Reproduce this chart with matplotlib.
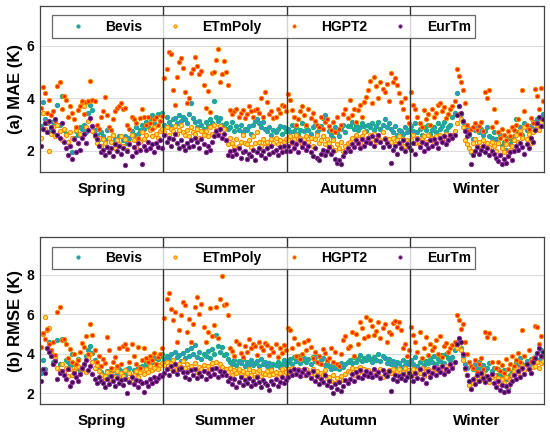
import numpy as np
import matplotlib.pyplot as plt

# daily errors per model, seasons in order: spring, summer, autumn, winter
seasons = ["Spring", "Summer", "Autumn", "Winter"]
season_days = [60, 60, 60, 65]

mae_bevis = [
    2.95, 3.85, 3.2, 3.05, 2.7, 2.85, 3.1, 2.6, 3.75, 3.0,
    4.1, 2.8, 2.65, 2.35, 2.2, 1.95, 2.5, 2.75, 2.6, 2.9,
    2.85, 3.0, 2.7, 3.45, 3.75, 3.55, 2.8, 2.6, 2.45, 2.7,
    2.55, 2.4, 2.8, 2.5, 2.35, 2.6, 2.45, 2.3, 2.55, 2.2,
    2.4, 2.55, 2.3, 2.5, 2.75, 2.6, 2.9, 2.65, 2.8, 3.0,
    2.85, 3.1, 2.95, 3.25, 3.35, 3.05, 3.3, 3.4, 3.15, 3.45,
    # summer
    3.0, 3.3, 3.1, 2.95, 3.2, 3.25, 3.05, 3.35, 3.15, 3.3,
    3.2, 3.05, 3.4, 3.8, 3.25, 3.1, 2.9, 3.15, 3.0, 2.85,
    3.1, 2.95, 3.2, 3.05, 3.9, 3.3, 3.15, 3.25, 3.0, 2.9,
    3.05, 2.85, 2.9, 3.1, 2.75, 2.95, 2.8, 3.0, 2.7, 2.85,
    2.8, 2.95, 2.65, 3.0, 3.15, 3.2, 3.05, 2.9, 3.1, 2.85,
    2.75, 2.9, 2.6, 2.8, 2.7, 2.85, 2.95, 2.65, 2.9, 2.75,
    # autumn
    2.85, 2.7, 3.0, 2.75, 2.9, 2.65, 2.8, 3.05, 2.75, 2.95,
    2.8, 2.65, 2.9, 3.0, 2.7, 2.85, 2.95, 3.25, 3.35, 3.2,
    2.75, 2.6, 2.5, 2.9, 2.7, 2.55, 2.85, 3.0, 2.7, 2.95,
    2.95, 3.1, 2.85, 3.0, 2.8, 2.9, 3.05, 2.95, 2.75, 3.0,
    2.9, 3.05, 2.8, 2.95, 3.1, 2.85, 3.0, 3.2, 2.9, 3.05,
    2.85, 2.7, 2.95, 2.6, 2.8, 2.75, 2.65, 2.9, 2.7, 2.8,
    # winter
    2.95, 2.75, 3.05, 2.7, 2.85, 2.6, 2.9, 2.8, 3.0, 2.65,
    2.8, 2.9, 2.7, 3.05, 2.85, 2.95, 3.1, 2.75, 2.9, 3.0,
    3.3, 3.45, 4.2, 3.7, 3.4, 3.1, 2.85, 2.9, 2.6, 1.95,
    2.45, 2.8, 2.9, 2.7, 2.85, 2.6, 2.75, 2.9, 2.55, 2.5,
    2.7, 2.45, 2.3, 2.6, 2.2, 2.35, 2.05, 2.5, 2.25, 2.4,
    2.55, 3.2, 2.7, 2.9, 2.6, 3.05, 2.8, 2.5, 2.95, 3.1,
    2.85, 3.2, 3.0, 3.25, 3.4,
]

mae_etmpoly = [
    2.5, 3.45, 2.85, 3.1, 2.0, 2.65, 2.9, 2.55, 3.0, 2.75,
    2.4, 2.85, 2.6, 2.35, 2.7, 2.5, 2.45, 2.8, 2.3, 2.65,
    3.85, 3.7, 2.9, 3.15, 3.9, 2.75, 2.55, 2.3, 2.5, 2.2,
    2.45, 2.3, 2.15, 2.5, 2.35, 2.6, 2.1, 2.4, 2.25, 2.55,
    2.2, 2.45, 2.05, 2.3, 2.6, 2.4, 2.15, 2.5, 2.35, 2.7,
    2.45, 2.6, 2.35, 2.8, 2.55, 2.9, 2.65, 2.5, 2.75, 2.85,
    # summer
    2.7, 2.9, 2.6, 2.85, 2.75, 2.95, 2.65, 2.8, 3.0, 2.7,
    2.6, 2.8, 2.55, 2.9, 2.7, 2.65, 2.85, 2.5, 2.75, 2.6,
    2.75, 2.55, 2.9, 2.65, 3.0, 2.8, 2.7, 2.95, 2.6, 2.85,
    2.4, 2.25, 2.5, 2.3, 2.15, 2.45, 2.2, 2.35, 2.6, 2.3,
    2.25, 2.4, 2.15, 2.55, 2.3, 2.7, 2.35, 2.2, 2.45, 2.3,
    2.35, 2.2, 2.45, 2.3, 2.5, 2.25, 2.4, 2.15, 2.35, 2.45,
    # autumn
    2.4, 2.55, 2.3, 2.45, 2.6, 2.35, 2.5, 2.25, 2.45, 2.55,
    2.35, 2.5, 2.2, 2.45, 2.6, 2.3, 2.4, 2.55, 2.25, 2.45,
    2.3, 2.15, 2.4, 2.05, 2.25, 2.1, 2.35, 2.0, 2.2, 2.3,
    2.35, 2.5, 2.25, 2.6, 2.45, 2.3, 2.55, 2.7, 2.4, 2.5,
    2.6, 2.45, 2.65, 2.35, 2.55, 2.4, 2.7, 2.5, 2.3, 2.45,
    2.35, 2.5, 2.25, 2.4, 2.55, 2.3, 2.45, 2.2, 2.4, 2.35,
    # winter
    2.4, 2.6, 2.3, 2.5, 2.25, 2.45, 2.55, 2.35, 2.6, 2.4,
    2.5, 2.3, 2.55, 2.4, 2.6, 2.45, 2.35, 2.65, 2.5, 2.55,
    2.6, 2.75, 3.05, 3.4, 3.2, 2.9, 2.4, 2.25, 2.1, 2.0,
    2.3, 2.45, 2.2, 2.35, 2.1, 2.4, 2.25, 2.3, 2.15, 2.35,
    2.2, 2.0, 2.3, 1.85, 2.1, 1.95, 2.25, 1.8, 2.05, 2.2,
    2.4, 2.6, 2.35, 2.75, 2.5, 2.9, 2.45, 2.65, 2.3, 2.7,
    2.85, 3.0, 2.8, 3.1, 2.95,
]

mae_hgpt2 = [
    3.62, 4.42, 4.21, 3.45, 3.92, 3.35, 3.52, 3.12, 4.48, 4.62,
    3.6, 4.08, 3.95, 3.3, 3.7, 3.45, 3.2, 2.92, 3.55, 3.72,
    3.9, 3.4, 3.85, 3.88, 4.66, 3.92, 3.9, 3.0, 2.85, 3.3,
    3.5, 4.05, 3.35, 2.9, 2.78, 3.2, 3.5, 3.62, 3.7, 3.82,
    3.6, 3.62, 3.0, 2.82, 3.3, 3.2, 3.05, 2.5, 3.25, 3.6,
    3.3, 3.0, 3.3, 3.05, 2.85, 3.2, 3.3, 3.0, 3.15, 3.32,
    # summer
    4.75, 5.12, 5.76, 5.68, 4.32, 3.75, 4.82, 5.38, 5.52, 5.15,
    4.22, 3.82, 4.02, 4.95, 5.1, 5.56, 5.22, 4.92, 5.05, 4.5,
    3.62, 4.28, 3.48, 4.95, 4.98, 5.45, 5.88, 4.62, 4.9, 5.4,
    5.0, 4.5, 3.55, 3.4, 3.5, 3.6, 3.3, 3.45, 3.55, 3.25,
    3.4, 3.7, 3.5, 3.3, 3.55, 3.6, 3.45, 4.0, 3.3, 4.25,
    3.85, 3.4, 3.5, 3.25, 3.3, 3.6, 3.45, 3.75, 3.7, 3.5,
    # autumn
    4.15, 3.95, 3.55, 3.3, 3.0, 3.2, 3.5, 3.7, 3.35, 3.0,
    3.6, 3.25, 3.45, 3.15, 3.0, 2.9, 3.3, 2.85, 3.1, 3.2,
    2.95, 2.8, 3.1, 2.7, 3.3, 2.85, 3.0, 3.4, 3.6, 3.25,
    3.95, 3.35, 3.6, 3.1, 3.55, 3.75, 3.3, 3.85, 4.05, 4.3,
    4.65, 3.8, 4.8, 4.45, 4.0, 4.6, 4.35, 4.25, 4.55, 3.9,
    4.95, 4.6, 4.75, 4.5, 4.2, 3.85, 3.6, 4.0, 3.3, 3.05,
    # winter
    4.25, 3.75, 3.6, 3.3, 3.05, 2.9, 3.55, 3.2, 3.4, 3.0,
    3.6, 3.3, 3.45, 3.75, 3.8, 3.5, 3.65, 3.25, 3.4, 3.6,
    3.7, 3.9, 5.1, 4.85, 4.6, 4.3, 3.8, 3.0, 2.75, 2.85,
    2.9, 3.05, 2.8, 2.95, 3.1, 2.75, 4.25, 4.0, 4.3, 2.9,
    3.6, 3.1, 2.7, 2.5, 2.85, 2.6, 2.4, 2.75, 2.55, 2.9,
    2.8, 3.0, 3.2, 2.65, 4.3, 3.5, 3.0, 2.85, 3.25, 3.05,
    4.35, 4.1, 3.6, 4.4, 3.9,
]

mae_eurtm = [
    2.2, 2.85, 3.05, 2.7, 3.15, 2.9, 2.75, 3.2, 2.6, 2.5,
    3.05, 2.35, 2.1, 1.85, 2.2, 1.7, 2.45, 1.95, 2.3, 2.05,
    2.5, 2.65, 2.3, 2.8, 3.25, 2.95, 2.6, 2.45, 2.2, 1.95,
    2.05, 1.85, 2.15, 1.95, 2.1, 1.8, 2.25, 2.0, 2.2, 1.9,
    2.1, 1.45, 2.0, 2.25, 1.8, 2.15, 1.95, 2.3, 2.05, 1.5,
    2.2, 2.05, 2.35, 2.1, 2.25, 1.95, 2.3, 2.15, 2.4, 2.1,
    # summer
    2.6, 2.35, 2.5, 2.2, 2.45, 2.65, 2.3, 2.1, 2.4, 2.2,
    2.05, 2.3, 2.15, 2.4, 2.2, 2.5, 2.35, 2.1, 2.45, 2.25,
    1.95, 2.2, 2.05, 2.35, 2.55, 2.75, 2.6, 2.85, 2.5, 2.65,
    2.4, 1.85, 2.0, 1.8, 2.05, 1.9, 2.1, 1.75, 1.95, 2.0,
    1.7, 1.9, 1.8, 2.05, 1.65, 1.95, 2.1, 1.85, 2.0, 1.75,
    2.1, 1.9, 2.2, 1.95, 2.05, 1.85, 2.15, 1.95, 2.2, 2.0,
    # autumn
    2.2, 2.0, 2.35, 2.1, 2.25, 1.95, 2.4, 2.15, 2.3, 2.05,
    2.2, 1.95, 1.8, 2.1, 1.75, 1.65, 1.9, 2.05, 1.85, 2.0,
    2.15, 1.9, 2.0, 1.7, 1.55, 1.65, 1.5, 1.8, 1.95, 2.1,
    2.0, 2.25, 2.15, 2.4, 2.3, 2.1, 2.45, 2.2, 2.35, 2.5,
    2.3, 2.55, 2.2, 2.4, 2.6, 2.35, 2.15, 2.45, 2.3, 2.2,
    1.55, 2.05, 2.2, 1.9, 2.3, 2.1, 2.4, 2.0, 2.25, 2.15,
    # winter
    2.05, 2.3, 1.9, 2.45, 2.15, 2.35, 2.0, 2.25, 2.1, 2.4,
    2.2, 2.45, 2.3, 2.1, 2.5, 2.35, 2.55, 2.25, 2.4, 2.6,
    2.5, 2.6, 3.35, 3.7, 3.45, 3.15, 2.75, 2.55, 2.65, 1.5,
    1.85, 2.0, 2.15, 1.9, 2.05, 2.2, 1.95, 2.1, 1.85, 2.0,
    1.9, 1.75, 1.6, 1.85, 1.5, 1.7, 1.55, 1.8, 1.95, 1.65,
    2.0, 2.2, 2.05, 2.3, 2.15, 1.9, 2.25, 2.1, 2.5, 2.35,
    2.8, 3.05, 3.3, 2.95, 3.2,
]

rmse_bevis = [
    3.0, 3.7, 3.2, 4.3, 4.6, 4.0, 3.6, 3.8, 4.7, 3.5,
    4.75, 4.7, 3.7, 3.6, 3.4, 4.0, 3.5, 3.3, 3.75, 3.1,
    3.2, 3.45, 3.9, 4.2, 4.4, 4.05, 3.7, 3.35, 3.3, 3.05,
    2.9, 2.7, 3.1, 2.8, 3.0, 3.15, 2.85, 2.95, 3.2, 3.05,
    3.1, 2.9, 3.2, 3.3, 2.85, 3.15, 3.0, 3.35, 3.2, 3.4,
    3.3, 3.55, 3.4, 3.7, 3.6, 3.8, 3.5, 3.75, 3.9, 4.0,
    # summer
    3.75, 3.9, 3.8, 4.0, 3.7, 4.1, 3.85, 3.95, 3.65, 4.05,
    3.8, 4.2, 3.9, 4.3, 4.0, 4.45, 3.85, 4.1, 3.75, 4.0,
    3.9, 4.15, 3.8, 4.25, 4.0, 4.95, 4.4, 4.1, 4.35, 3.95,
    4.0, 3.75, 3.6, 3.5, 3.7, 3.45, 3.65, 3.55, 3.75, 3.4,
    3.6, 3.5, 3.7, 3.45, 3.55, 3.65, 3.4, 3.75, 3.5, 3.6,
    3.4, 3.55, 3.3, 3.5, 3.45, 3.6, 3.35, 3.5, 3.7, 3.45,
    # autumn
    3.6, 3.75, 3.5, 3.85, 3.65, 3.9, 3.55, 3.7, 3.8, 3.6,
    3.75, 3.5, 3.85, 3.65, 3.9, 3.55, 3.7, 3.8, 3.45, 3.6,
    3.4, 3.25, 3.5, 3.3, 3.45, 3.2, 3.55, 3.35, 3.5, 3.6,
    3.7, 3.55, 3.85, 3.6, 3.75, 3.95, 3.65, 3.8, 3.7, 3.9,
    3.75, 3.6, 3.85, 3.7, 4.0, 3.65, 3.9, 3.8, 3.55, 3.75,
    3.5, 3.65, 3.4, 3.6, 3.55, 3.35, 3.7, 3.45, 3.6, 3.5,
    # winter
    3.7, 3.5, 3.85, 3.4, 3.6, 3.75, 3.45, 3.65, 3.55, 3.8,
    3.6, 3.9, 3.5, 3.75, 3.65, 3.95, 3.55, 4.0, 3.8, 3.7,
    3.85, 4.2, 4.45, 4.7, 4.3, 3.9, 3.5, 3.3, 3.6, 3.4,
    3.2, 3.5, 3.35, 3.6, 3.25, 3.45, 3.15, 3.3, 3.55, 3.1,
    3.3, 2.9, 3.2, 3.0, 2.8, 3.15, 2.7, 2.2, 2.9, 3.05,
    3.3, 3.6, 3.45, 3.8, 3.5, 3.9, 3.65, 3.4, 3.75, 3.55,
    3.85, 4.05, 3.7, 4.2, 3.9,
]

rmse_etmpoly = [
    4.35, 5.0, 5.85, 5.2, 5.3, 4.1, 3.5, 3.8, 3.3, 3.1,
    3.5, 3.05, 3.3, 2.85, 3.2, 2.9, 3.1, 3.35, 3.4, 2.95,
    3.25, 3.5, 3.05, 3.8, 4.0, 3.6, 3.3, 3.45, 3.1, 2.9,
    2.6, 2.85, 3.05, 2.7, 2.95, 3.25, 2.8, 3.1, 2.75, 3.0,
    2.85, 3.15, 2.7, 3.0, 2.55, 2.9, 3.1, 2.8, 3.05, 3.25,
    2.95, 3.2, 3.05, 3.4, 3.15, 3.3, 3.5, 3.25, 3.45, 3.55,
    # summer
    3.45, 3.6, 3.3, 3.55, 3.7, 3.4, 3.25, 3.5, 3.35, 3.65,
    3.3, 3.5, 3.15, 3.4, 3.25, 3.55, 3.05, 3.35, 3.2, 3.45,
    3.1, 3.4, 3.25, 3.55, 3.3, 3.6, 3.2, 3.5, 3.35, 3.15,
    3.2, 3.05, 3.3, 2.9, 3.15, 3.0, 3.25, 2.95, 3.1, 2.85,
    3.0, 3.2, 2.9, 3.1, 2.8, 3.05, 3.15, 2.85, 3.0, 2.95,
    3.1, 2.9, 3.15, 2.95, 3.05, 2.8, 3.0, 3.2, 2.9, 3.05,
    # autumn
    3.2, 3.0, 3.3, 3.1, 2.95, 3.25, 3.05, 3.15, 2.9, 3.2,
    3.05, 2.85, 3.2, 2.95, 3.1, 2.8, 3.0, 2.9, 3.15, 2.75,
    2.8, 2.6, 2.9, 2.5, 2.75, 2.55, 2.85, 2.65, 2.95, 3.1,
    3.05, 3.3, 2.9, 3.2, 3.0, 3.35, 3.1, 3.25, 2.95, 3.15,
    3.0, 2.85, 3.1, 2.9, 2.95, 3.2, 2.8, 3.05, 2.9, 3.15,
    3.0, 3.2, 2.95, 3.1, 3.25, 2.9, 3.05, 3.3, 3.0, 3.15,
    # winter
    3.05, 3.25, 2.9, 3.15, 3.0, 3.3, 2.85, 3.1, 3.2, 2.95,
    3.1, 3.3, 3.0, 3.2, 3.35, 3.05, 3.25, 3.4, 3.15, 3.3,
    3.45, 3.6, 4.3, 4.45, 4.2, 3.7, 3.2, 2.9, 2.4, 2.2,
    2.5, 2.75, 2.6, 2.9, 2.7, 3.0, 2.65, 2.85, 2.55, 2.8,
    2.9, 2.6, 2.75, 2.45, 2.7, 2.5, 2.8, 2.35, 2.65, 2.9,
    3.1, 3.3, 3.0, 3.25, 3.4, 3.15, 3.45, 3.2, 3.0, 3.35,
    3.4, 3.6, 3.3, 3.55, 3.65,
]

rmse_hgpt2 = [
    4.35, 5.05, 4.75, 5.25, 4.5, 4.2, 4.6, 3.95, 6.1, 6.38,
    4.7, 4.75, 4.5, 3.8, 4.25, 3.6, 4.0, 3.5, 3.7, 4.1,
    4.55, 4.35, 4.9, 4.0, 5.5, 4.95, 4.2, 3.6, 3.9, 3.4,
    3.75, 3.55, 4.85, 4.2, 3.3, 3.6, 3.85, 3.4, 4.3, 3.5,
    4.4, 4.5, 4.25, 3.6, 4.5, 3.9, 3.5, 4.35, 3.3, 3.7,
    4.3, 3.8, 3.6, 3.9, 3.7, 4.05, 3.5, 3.85, 4.0, 4.3,
    # summer
    5.8, 6.75, 7.1, 6.25, 5.7, 6.1, 4.6, 5.2, 5.95, 6.6,
    6.45, 5.1, 5.75, 4.6, 5.5, 6.35, 6.9, 6.0, 6.5, 5.35,
    4.6, 5.1, 6.3, 4.9, 5.45, 6.35, 4.8, 6.75, 7.95, 6.45,
    6.5, 5.95, 4.3, 4.15, 3.9, 4.65, 4.5, 4.05, 3.85, 4.4,
    4.1, 4.75, 4.3, 4.5, 4.4, 3.95, 4.6, 4.35, 4.2, 4.55,
    4.45, 3.95, 4.3, 4.1, 4.5, 3.85, 4.3, 4.05, 4.45, 4.2,
    # autumn
    5.3, 5.2, 4.3, 4.8, 3.9, 4.5, 3.75, 4.0, 4.6, 4.2,
    4.7, 4.35, 3.8, 4.1, 3.6, 3.9, 3.5, 4.25, 4.05, 3.7,
    3.8, 4.3, 3.6, 4.1, 3.5, 3.4, 4.0, 4.7, 4.9, 4.3,
    4.4, 5.1, 3.9, 5.0, 4.5, 5.6, 5.3, 4.8, 5.85, 4.9,
    5.7, 5.4, 4.95, 5.15, 5.6, 4.8, 5.3, 5.5, 4.6, 5.1,
    5.0, 5.55, 5.65, 5.35, 5.6, 5.2, 4.3, 4.5, 3.9, 4.2,
    # winter
    5.35, 4.95, 4.6, 4.1, 5.1, 3.8, 4.3, 4.85, 3.95, 4.5,
    4.2, 4.35, 4.7, 4.0, 4.9, 3.85, 4.4, 4.55, 4.1, 4.3,
    4.45, 4.6, 5.95, 5.7, 5.25, 5.5, 4.6, 4.0, 3.6, 3.4,
    3.3, 3.7, 3.05, 3.5, 3.8, 3.2, 5.1, 4.85, 5.05, 3.6,
    4.8, 3.3, 3.6, 3.1, 3.45, 3.0, 3.75, 3.25, 3.5, 3.9,
    3.4, 3.7, 4.05, 3.6, 5.2, 3.9, 3.5, 4.2, 3.65, 3.8,
    5.4, 5.35, 4.5, 4.9, 4.1,
]

rmse_eurtm = [
    2.6, 3.2, 3.0, 4.3, 4.1, 3.9, 3.5, 3.65, 2.7, 3.0,
    3.1, 2.9, 2.7, 3.2, 2.35, 2.55, 3.0, 2.8, 2.6, 2.95,
    3.3, 3.5, 3.7, 3.15, 3.4, 2.95, 2.7, 2.5, 2.8, 2.6,
    2.5, 2.3, 2.7, 2.45, 2.85, 2.6, 2.35, 2.75, 2.5, 2.65,
    2.4, 2.7, 2.0, 2.55, 2.8, 2.45, 2.65, 2.3, 2.6, 2.5,
    2.05, 2.55, 2.35, 2.7, 2.5, 2.8, 2.6, 2.75, 2.9, 2.85,
    # summer
    3.0, 3.25, 2.9, 3.4, 3.1, 3.5, 2.95, 3.2, 3.3, 3.05,
    2.8, 3.05, 2.7, 3.15, 2.9, 3.25, 2.75, 3.0, 2.85, 3.1,
    2.7, 3.0, 2.85, 3.2, 2.95, 3.3, 2.8, 3.1, 2.9, 3.05,
    2.9, 2.6, 2.75, 2.45, 2.7, 2.3, 2.55, 2.8, 2.4, 2.65,
    2.5, 2.75, 2.35, 2.6, 2.45, 2.8, 2.55, 2.3, 2.65, 2.5,
    2.4, 2.15, 2.6, 2.45, 2.7, 2.35, 2.55, 2.8, 2.5, 2.65,
    # autumn
    2.8, 3.1, 2.9, 3.25, 2.95, 3.15, 2.85, 3.05, 3.2, 2.9,
    3.0, 2.75, 3.1, 2.6, 2.85, 2.45, 2.7, 2.55, 2.9, 2.4,
    2.6, 2.3, 2.0, 2.45, 2.2, 2.55, 2.1, 2.35, 2.65, 2.5,
    2.7, 2.95, 2.6, 3.05, 2.8, 3.15, 2.75, 2.9, 3.1, 2.85,
    3.0, 2.8, 3.2, 2.9, 3.05, 2.75, 3.15, 2.95, 2.85, 3.1,
    2.1, 2.7, 2.9, 2.6, 2.85, 2.75, 2.95, 2.65, 2.8, 3.0,
    # winter
    2.85, 2.6, 3.0, 2.75, 3.2, 2.7, 2.95, 2.5, 3.1, 2.8,
    3.0, 3.35, 2.9, 3.2, 3.05, 3.4, 2.95, 3.25, 3.1, 3.5,
    3.3, 3.6, 4.5, 4.8, 4.6, 4.0, 3.3, 2.9, 2.6, 2.2,
    2.7, 2.45, 2.9, 2.6, 3.0, 2.75, 2.55, 2.85, 2.7, 2.95,
    2.5, 2.3, 2.6, 2.15, 2.4, 2.05, 2.35, 2.1, 2.45, 2.6,
    2.9, 2.7, 3.1, 2.8, 3.3, 2.95, 3.5, 3.2, 3.0, 3.6,
    3.8, 4.05, 4.3, 3.9, 4.1,
]

names = ["Bevis", "ETmPoly", "HGPT2", "EurTm"]
face = ["#3b8fd6", "#ffe040", "#ff2200", "#3a0a48"]
edge = ["#14b37d", "#ff8a00", "#ff8a00", "#8e2c9e"]

plt.rcParams['font.family'] = ['Liberation Sans', 'DejaVu Sans']
plt.rcParams['font.weight'] = 'bold'

fig = plt.figure(figsize=(5.5, 4.34), dpi=100)
ax1 = fig.add_axes([0.0727, 0.6037, 0.9164, 0.3825])
ax2 = fig.add_axes([0.0727, 0.0691, 0.9164, 0.3840])

panels = [
    (ax1, [mae_bevis, mae_etmpoly, mae_hgpt2, mae_eurtm], "(a) MAE (K)", (1.2, 7.5), [2, 4, 6]),
    (ax2, [rmse_bevis, rmse_etmpoly, rmse_hgpt2, rmse_eurtm], "(b) RMSE (K)", (1.45, 9.9), [2, 4, 6, 8]),
]

bounds = np.cumsum(season_days)
centers = bounds - np.array(season_days) / 2 + 0.5

for ax, data, ylab, ylim, yt in panels:
    for vals, nm, fc, ec in zip(data, names, face, edge):
        x = np.arange(1, len(vals) + 1)
        ax.plot(x, vals, ls='none', marker='o', ms=3.0, mfc=fc, mec=ec,
                mew=0.8, label=nm)
    for b in bounds[:-1]:
        ax.axvline(b + 0.5, color='#333333', lw=1.0)
    ax.set_xlim(0.5, bounds[-1] + 0.5)
    ax.set_ylim(*ylim)
    ax.set_yticks(yt)
    ax.set_yticklabels([str(v) for v in yt], fontsize=10, fontweight='bold')
    ax.set_xticks(centers)
    ax.set_xticklabels(seasons, fontsize=11, fontweight='bold')
    ax.tick_params(axis='x', length=0, pad=7)
    ax.tick_params(axis='y', length=0, pad=4)
    ax.grid(axis='y', color='#dddddd', lw=0.8)
    ax.set_axisbelow(True)
    ax.set_ylabel(ylab, fontsize=12, fontweight='bold', labelpad=3)
    for s in ax.spines.values():
        s.set_color('#444444')
        s.set_linewidth(0.9)
    leg = ax.legend(loc='upper left', bbox_to_anchor=(0.024, 0.943), ncol=4,
                    fontsize=10, frameon=True, fancybox=False, markerscale=0.75,
                    handlelength=3.2, handletextpad=0.35, columnspacing=0.75,
                    borderpad=0.3, borderaxespad=0)
    leg.get_frame().set_edgecolor('#444444')
    leg.get_frame().set_linewidth(0.9)
    for t in leg.get_texts():
        t.set_fontweight('bold')

fig.savefig("out.png", dpi=100)
